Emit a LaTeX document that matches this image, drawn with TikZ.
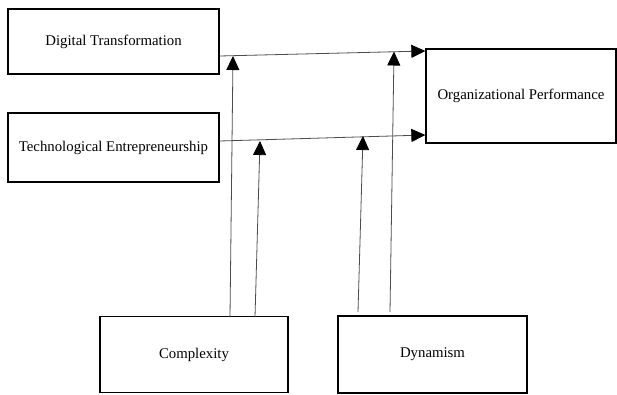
\documentclass[tikz,border=0pt]{standalone}
\usepackage{fontspec}
\setmainfont{Liberation Serif}
\usetikzlibrary{arrows.meta}
\begin{document}
\begin{tikzpicture}[x=1pt,y=-1pt,
  box/.style={draw=black,line width=1.3pt,inner sep=0pt,font=\fontsize{14.8}{17}\selectfont},
  conn/.style={draw=black!70,line width=0.8pt},
  arr/.style={conn,-{Triangle[length=14pt,width=13pt,fill=black,color=black]}}]
\useasboundingbox (0,0) rectangle (617,394);
\path[fill=white] (0,0) rectangle (617,394);
\node[box,minimum width=211pt,minimum height=65pt] (dt) at (113.5,41.5) {Digital Transformation};
\node[box,minimum width=211pt,minimum height=69pt] (te) at (113.5,147.5) {Technological Entrepreneurship};
\node[box,minimum width=190pt,minimum height=94pt] (op) at (521,96) {Organizational Performance};
\node[box,minimum width=188pt,minimum height=76pt] (cx) at (194,354.5) {Complexity};
\node[box,minimum width=189pt,minimum height=77pt] (dy) at (432.5,354.5) {Dynamism};
\coordinate (a1) at (dt.east |- 0,56);
\coordinate (a2) at (op.west |- 0,51);
\coordinate (b1) at (te.east |- 0,141);
\coordinate (b2) at (op.west |- 0,135);
\draw[arr] (a1) -- (a2);
\draw[arr] (b1) -- (b2);
\coordinate (c1) at (230,317);
\coordinate (c1t) at (233,56);
\coordinate (c2) at (255,317);
\coordinate (c2t) at (260,141);
\coordinate (d1) at (358,312);
\coordinate (d1t) at (363,136);
\coordinate (d2) at (390,312);
\coordinate (d2t) at (394,51.5);
\draw[arr] (c1) -- (c1t);
\draw[arr] (c2) -- (c2t);
\draw[arr] (d1) -- (d1t);
\draw[arr] (d2) -- (d2t);
\end{tikzpicture}
\end{document}
